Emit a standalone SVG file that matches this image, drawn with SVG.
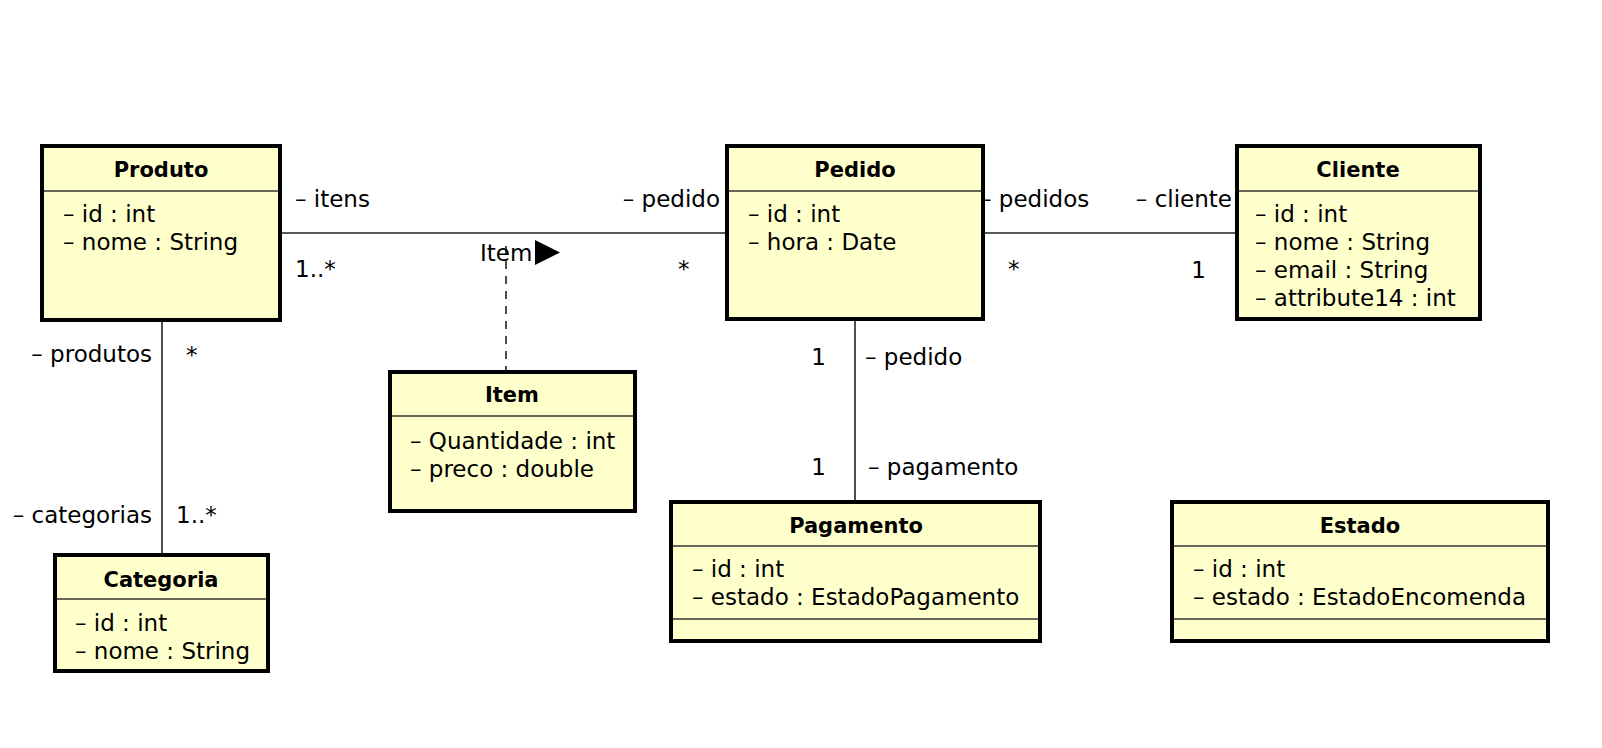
<svg xmlns="http://www.w3.org/2000/svg" width="1602" height="748" viewBox="0 0 1602 748">
<style>
.box{fill:#FFFFCC;stroke:#000;stroke-width:4}
.sep{stroke:#333;stroke-width:1.5}
.t{font-family:"DejaVu Sans",Verdana,sans-serif;font-size:21px;font-weight:bold;text-anchor:middle;fill:#000}
.a{font-family:"DejaVu Sans",Verdana,sans-serif;font-size:23px;fill:#000}
.l{font-family:"DejaVu Sans",Verdana,sans-serif;font-size:23px;fill:#000}
.e{text-anchor:end}
.c{stroke:#222;stroke-width:1.6;fill:none}
.d{stroke:#222;stroke-width:1.6;fill:none;stroke-dasharray:8 7}
</style>
<rect width="1602" height="748" fill="#fff"/>
<g id="connectors">
<line class="c" x1="282" y1="233" x2="725" y2="233"/>
<line class="c" x1="985" y1="233" x2="1235" y2="233"/>
<line class="c" x1="162" y1="322" x2="162" y2="553"/>
<line class="c" x1="855" y1="320" x2="855" y2="500"/>
<line class="d" x1="506" y1="246" x2="506" y2="370"/>
<text class="l" x="295" y="207">– itens</text>
<text class="l" x="295" y="277">1..*</text>
<text class="l e" x="720" y="207">– pedido</text>
<text class="l" x="678" y="277">*</text>
<text class="l" x="480" y="261">Item</text>
<polygon points="535,240 535,265 560,252.5" fill="#000"/>
<text class="l" x="980" y="207">– pedidos</text>
<text class="l e" x="1232" y="207">– cliente</text>
<text class="l" x="1008" y="277">*</text>
<text class="l e" x="1206" y="278">1</text>
<text class="l e" x="152" y="362">– produtos</text>
<text class="l" x="186" y="363">*</text>
<text class="l e" x="152" y="523">– categorias</text>
<text class="l" x="176" y="523">1..*</text>
<text class="l e" x="826" y="365">1</text>
<text class="l" x="865" y="365">– pedido</text>
<text class="l e" x="826" y="475">1</text>
<text class="l" x="868" y="475">– pagamento</text>
</g>
<g id="Produto">
<rect class="box" x="42" y="146" width="238" height="174"/>
<line class="sep" x1="44" y1="191" x2="278" y2="191"/>
<text class="t" x="161" y="177">Produto</text>
<text class="a" x="63" y="222">– id : int</text>
<text class="a" x="63" y="250">– nome : String</text>
</g>
<g id="Pedido">
<rect class="box" x="727" y="146" width="256" height="173"/>
<line class="sep" x1="729" y1="191" x2="981" y2="191"/>
<text class="t" x="855" y="177">Pedido</text>
<text class="a" x="748" y="222">– id : int</text>
<text class="a" x="748" y="250">– hora : Date</text>
</g>
<g id="Cliente">
<rect class="box" x="1237" y="146" width="243" height="173"/>
<line class="sep" x1="1239" y1="191" x2="1478" y2="191"/>
<text class="t" x="1358" y="177">Cliente</text>
<text class="a" x="1255" y="222">– id : int</text>
<text class="a" x="1255" y="250">– nome : String</text>
<text class="a" x="1255" y="278">– email : String</text>
<text class="a" x="1255" y="306">– attribute14 : int</text>
</g>
<g id="Item">
<rect class="box" x="390" y="372" width="245" height="139"/>
<line class="sep" x1="392" y1="416" x2="633" y2="416"/>
<text class="t" x="512" y="402">Item</text>
<text class="a" x="410" y="449">– Quantidade : int</text>
<text class="a" x="410" y="477">– preco : double</text>
</g>
<g id="Pagamento">
<rect class="box" x="671" y="502" width="369" height="139"/>
<line class="sep" x1="673" y1="546" x2="1038" y2="546"/>
<line class="sep" x1="673" y1="619" x2="1038" y2="619"/>
<text class="t" x="856" y="533">Pagamento</text>
<text class="a" x="692" y="577">– id : int</text>
<text class="a" x="692" y="605">– estado : EstadoPagamento</text>
</g>
<g id="Estado">
<rect class="box" x="1172" y="502" width="376" height="139"/>
<line class="sep" x1="1174" y1="546" x2="1546" y2="546"/>
<line class="sep" x1="1174" y1="619" x2="1546" y2="619"/>
<text class="t" x="1360" y="533">Estado</text>
<text class="a" x="1193" y="577">– id : int</text>
<text class="a" x="1193" y="605">– estado : EstadoEncomenda</text>
</g>
<g id="Categoria">
<rect class="box" x="55" y="555" width="213" height="116"/>
<line class="sep" x1="57" y1="599" x2="266" y2="599"/>
<text class="t" x="161" y="587">Categoria</text>
<text class="a" x="75" y="631">– id : int</text>
<text class="a" x="75" y="659">– nome : String</text>
</g>
</svg>
